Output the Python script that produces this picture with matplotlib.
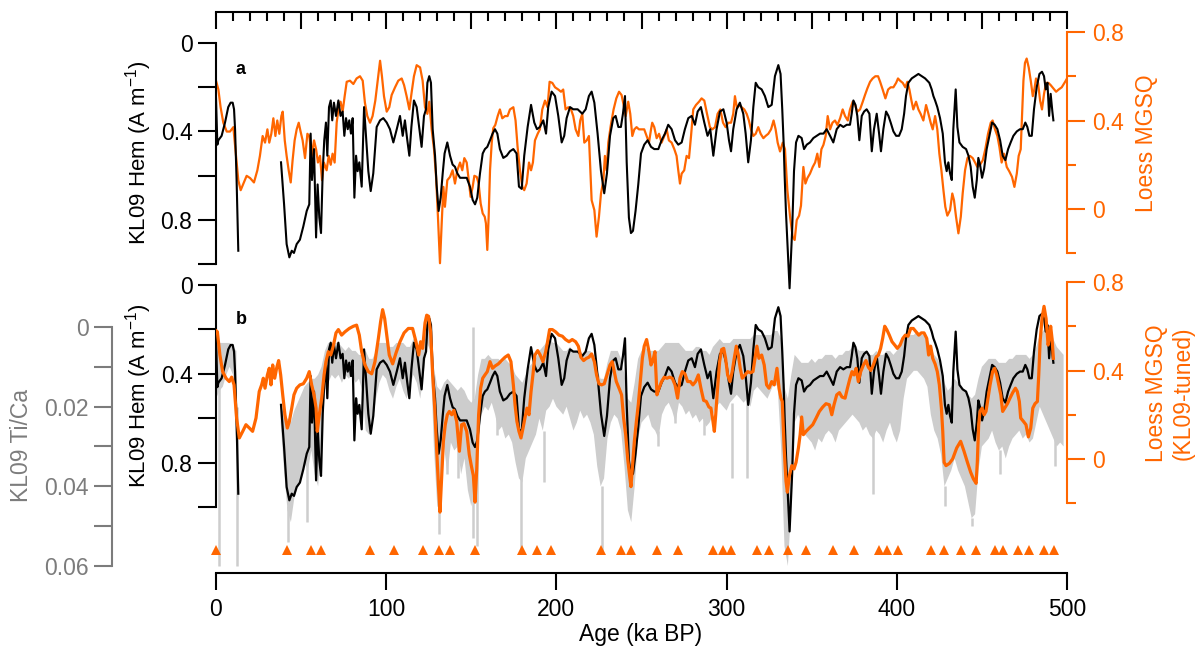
import matplotlib.pyplot as plt
from matplotlib.ticker import MultipleLocator
import numpy as np

# KL09 hematite (A m-1), [age ka, value]; same record shown in both panels
hem_pts = np.array([
    [0.0, 0.25], [0.8, 0.46], [1.4, 0.44], [3.3, 0.42], [5.3, 0.36], [7.2, 0.29],
    [8.6, 0.27], [9.8, 0.27], [10.6, 0.30], [11.2, 0.39], [12.1, 0.62], [13.1, 0.94],
    [25.0, np.nan],
    [38.2, 0.54], [40.0, 0.73], [41.5, 0.91], [43.1, 0.97], [44.5, 0.94], [45.8, 0.95],
    [47.4, 0.91], [49.3, 0.89], [51.3, 0.83], [53.3, 0.76], [54.8, 0.73], [55.6, 0.41],
    [56.4, 0.62], [57.6, 0.48], [58.8, 0.88], [59.7, 0.64], [60.7, 0.79], [61.7, 0.86],
    [62.7, 0.58], [63.6, 0.44], [64.6, 0.36], [65.4, 0.51], [66.4, 0.29], [67.4, 0.26],
    [68.3, 0.35], [69.3, 0.27], [70.5, 0.33], [71.9, 0.26], [73.2, 0.33], [74.4, 0.31],
    [75.4, 0.42], [76.4, 0.34], [77.4, 0.39], [78.3, 0.35], [79.3, 0.41], [80.3, 0.34],
    [81.3, 0.70], [82.3, 0.51], [83.2, 0.58], [84.2, 0.54], [85.6, 0.65], [87.0, 0.29],
    [88.1, 0.42], [89.5, 0.58], [90.9, 0.67], [92.4, 0.59], [94.4, 0.38], [96.4, 0.35],
    [98.3, 0.34], [100.3, 0.36], [102.2, 0.39], [104.2, 0.45], [106.2, 0.39], [108.1, 0.33],
    [109.7, 0.42], [111.0, 0.35], [112.4, 0.44], [113.6, 0.51], [114.8, 0.38], [116.3, 0.26],
    [117.9, 0.29], [119.5, 0.39], [120.8, 0.47], [122.2, 0.33], [123.4, 0.30], [124.2, 0.18],
    [125.3, 0.15], [126.3, 0.18], [127.3, 0.39], [128.7, 0.51], [129.6, 0.64], [130.8, 0.76],
    [132.0, 0.70], [133.2, 0.59], [134.3, 0.50], [135.9, 0.45], [137.5, 0.51], [139.0, 0.55],
    [140.4, 0.56], [141.8, 0.59], [143.4, 0.61], [145.3, 0.61], [147.3, 0.61], [149.2, 0.65],
    [150.8, 0.71], [152.2, 0.73], [153.5, 0.70], [155.1, 0.59], [156.7, 0.50], [158.0, 0.48],
    [159.4, 0.47], [161.0, 0.44], [162.5, 0.41], [163.9, 0.39], [165.3, 0.41], [166.8, 0.48],
    [168.8, 0.52], [170.8, 0.51], [172.7, 0.49], [174.7, 0.48], [176.6, 0.50], [178.0, 0.65],
    [179.6, 0.66], [181.1, 0.51], [183.1, 0.38], [185.1, 0.28], [187.0, 0.36], [188.6, 0.39],
    [190.3, 0.38], [192.3, 0.35], [193.9, 0.41], [195.2, 0.29], [197.2, 0.22], [199.2, 0.24],
    [201.1, 0.33], [203.1, 0.45], [204.6, 0.42], [206.0, 0.34], [208.0, 0.29], [209.9, 0.30],
    [212.5, 0.30], [215.2, 0.32], [217.2, 0.30], [219.1, 0.24], [220.7, 0.22], [222.3, 0.27],
    [224.2, 0.41], [226.2, 0.58], [228.1, 0.68], [229.7, 0.59], [231.5, 0.42], [233.4, 0.34],
    [234.8, 0.33], [236.4, 0.38], [237.9, 0.38], [239.1, 0.32], [240.3, 0.24], [241.3, 0.54],
    [242.6, 0.79], [243.8, 0.86], [245.0, 0.85], [246.5, 0.76], [248.1, 0.64], [249.7, 0.50],
    [251.6, 0.46], [253.6, 0.44], [255.6, 0.47], [257.5, 0.48], [259.9, 0.48], [261.8, 0.44],
    [263.8, 0.41], [265.7, 0.37], [267.7, 0.39], [269.7, 0.44], [271.6, 0.46], [273.6, 0.45],
    [275.5, 0.39], [277.5, 0.34], [279.5, 0.33], [281.4, 0.37], [283.0, 0.31], [284.9, 0.29],
    [286.9, 0.36], [288.8, 0.42], [290.4, 0.39], [292.2, 0.51], [294.1, 0.39], [296.1, 0.31],
    [298.1, 0.30], [300.0, 0.36], [301.4, 0.44], [302.6, 0.49], [303.9, 0.39], [305.9, 0.30],
    [307.8, 0.27], [309.8, 0.32], [311.2, 0.41], [312.7, 0.54], [314.3, 0.44], [315.7, 0.29],
    [317.1, 0.18], [318.6, 0.20], [320.6, 0.21], [322.5, 0.24], [324.5, 0.29], [326.5, 0.28],
    [328.4, 0.15], [330.4, 0.10], [331.7, 0.14], [332.7, 0.30], [333.5, 0.45], [334.1, 0.60],
    [334.9, 0.77], [336.3, 1.00], [337.0, 1.11], [338.5, 0.85], [339.6, 0.58], [340.8, 0.45],
    [342.2, 0.42], [344.1, 0.43], [345.5, 0.48], [347.1, 0.46], [349.0, 0.45], [351.0, 0.43],
    [352.9, 0.42], [354.9, 0.41], [356.9, 0.41], [358.8, 0.39], [360.8, 0.42], [362.7, 0.45],
    [364.7, 0.39], [366.7, 0.37], [368.6, 0.38], [370.6, 0.37], [372.5, 0.37], [373.5, 0.32],
    [374.5, 0.26], [375.7, 0.28], [376.8, 0.33], [378.0, 0.44], [379.4, 0.33], [380.8, 0.31],
    [382.3, 0.30], [383.9, 0.32], [385.3, 0.49], [386.6, 0.39], [388.2, 0.32], [389.6, 0.41],
    [390.7, 0.49], [392.1, 0.39], [393.7, 0.31], [395.1, 0.33], [396.4, 0.36], [398.0, 0.40],
    [399.6, 0.42], [401.3, 0.42], [402.9, 0.39], [404.3, 0.32], [405.4, 0.24], [406.8, 0.18],
    [408.8, 0.16], [410.7, 0.15], [412.7, 0.14], [414.6, 0.15], [416.6, 0.16], [419.1, 0.18],
    [420.5, 0.21], [421.5, 0.24], [422.5, 0.26], [423.8, 0.29], [425.4, 0.34], [427.0, 0.41],
    [428.3, 0.54], [429.3, 0.58], [430.3, 0.54], [431.3, 0.59], [432.3, 0.62], [433.2, 0.39],
    [434.6, 0.21], [435.6, 0.38], [436.8, 0.45], [438.7, 0.47], [440.7, 0.48], [442.1, 0.51],
    [443.4, 0.56], [444.6, 0.65], [445.8, 0.70], [447.0, 0.62], [447.9, 0.52], [448.9, 0.55],
    [450.1, 0.61], [451.3, 0.57], [452.8, 0.48], [454.4, 0.42], [456.0, 0.36], [457.5, 0.37],
    [459.1, 0.39], [460.7, 0.44], [462.2, 0.51], [463.8, 0.53], [465.4, 0.48], [466.9, 0.45],
    [468.5, 0.42], [470.5, 0.40], [472.4, 0.39], [474.0, 0.39], [475.5, 0.36], [476.7, 0.38],
    [477.9, 0.42], [479.3, 0.42], [480.6, 0.30], [482.2, 0.20], [483.8, 0.14], [485.3, 0.13],
    [486.5, 0.15], [487.5, 0.21], [488.5, 0.18], [489.5, 0.33], [490.4, 0.23], [491.4, 0.31],
    [492.0, 0.35],
])

# Loess MGSQ on its own age model (panel a)
loess_pts = np.array([
    [0.0, 0.58], [1.4, 0.54], [2.7, 0.46], [4.3, 0.39], [6.3, 0.35], [8.2, 0.35],
    [10.2, 0.37], [11.8, 0.24], [13.1, 0.13], [14.5, 0.085], [16.1, 0.115], [18.0, 0.15],
    [20.0, 0.14], [22.3, 0.12], [24.3, 0.175], [25.8, 0.24], [27.4, 0.33], [28.8, 0.30],
    [30.2, 0.36], [31.3, 0.30], [32.5, 0.34], [33.7, 0.41], [34.9, 0.33], [36.0, 0.40],
    [37.2, 0.34], [38.4, 0.42], [39.2, 0.44], [40.4, 0.31], [41.5, 0.24], [42.7, 0.175],
    [43.9, 0.12], [45.0, 0.22], [46.2, 0.31], [47.4, 0.36], [48.6, 0.39], [49.7, 0.35],
    [50.9, 0.31], [52.3, 0.23], [53.7, 0.34], [54.8, 0.33], [56.2, 0.24], [57.6, 0.31],
    [58.8, 0.27], [59.9, 0.21], [61.1, 0.24], [62.3, 0.13], [63.4, 0.21], [65.0, 0.175],
    [66.2, 0.24], [67.4, 0.20], [68.5, 0.25], [69.7, 0.21], [70.9, 0.39], [72.1, 0.46],
    [73.2, 0.485], [74.4, 0.44], [75.6, 0.51], [76.8, 0.575], [78.7, 0.58], [80.7, 0.565],
    [82.6, 0.59], [84.6, 0.60], [86.2, 0.58], [87.5, 0.48], [88.9, 0.42], [90.5, 0.39],
    [92.0, 0.42], [93.6, 0.49], [95.0, 0.58], [96.4, 0.67], [97.5, 0.60], [98.7, 0.51],
    [100.3, 0.44], [101.8, 0.46], [103.2, 0.515], [105.2, 0.55], [107.1, 0.58], [109.1, 0.59],
    [110.5, 0.56], [112.0, 0.51], [113.6, 0.45], [115.0, 0.53], [116.3, 0.60], [117.9, 0.65],
    [119.9, 0.64], [121.4, 0.58], [122.8, 0.46], [124.2, 0.43], [125.3, 0.485], [126.7, 0.36],
    [128.1, 0.27], [129.3, 0.145], [130.4, -0.035], [131.6, -0.245], [132.6, -0.065], [133.6, 0.10],
    [134.5, 0.01], [135.9, 0.13], [137.5, 0.145], [139.0, 0.175], [140.4, 0.115], [141.8, 0.175],
    [143.4, 0.21], [144.7, 0.175], [145.9, 0.23], [147.3, 0.21], [148.5, 0.13], [149.6, 0.055],
    [150.8, 0.10], [151.8, 0.15], [153.2, 0.145], [154.3, 0.115], [155.5, 0.025], [156.7, -0.02],
    [157.9, -0.035], [158.6, -0.065], [159.4, -0.185], [160.2, -0.035], [161.0, 0.175], [162.0, 0.30],
    [162.9, 0.365], [164.1, 0.38], [165.5, 0.42], [166.8, 0.45], [168.2, 0.41], [169.8, 0.42],
    [171.3, 0.42], [172.7, 0.45], [174.7, 0.46], [176.0, 0.40], [177.2, 0.28], [178.6, 0.175],
    [180.0, 0.10], [181.1, 0.085], [182.5, 0.115], [183.9, 0.21], [185.1, 0.175], [186.2, 0.21],
    [187.4, 0.31], [189.0, 0.34], [190.3, 0.36], [191.7, 0.45], [193.3, 0.49], [194.8, 0.46],
    [196.0, 0.575], [197.6, 0.57], [199.2, 0.55], [201.1, 0.54], [202.7, 0.53], [204.0, 0.54],
    [205.4, 0.45], [207.0, 0.46], [208.6, 0.45], [209.9, 0.42], [211.3, 0.36], [212.9, 0.33],
    [214.0, 0.40], [215.2, 0.43], [216.4, 0.30], [217.8, 0.31], [219.1, 0.33], [220.7, 0.04],
    [222.3, -0.005], [223.6, -0.125], [225.0, -0.035], [226.2, 0.07], [227.6, 0.13], [228.5, 0.24],
    [229.5, 0.175], [230.5, 0.30], [232.0, 0.38], [233.6, 0.45], [235.2, 0.50], [236.8, 0.53],
    [238.3, 0.515], [239.5, 0.47], [240.7, 0.42], [242.2, 0.485], [243.4, 0.43], [244.6, 0.33],
    [245.8, 0.36], [247.1, 0.37], [248.5, 0.36], [250.1, 0.36], [251.6, 0.36], [253.0, 0.33],
    [254.4, 0.30], [255.6, 0.36], [256.3, 0.39], [257.5, 0.37], [258.9, 0.32], [260.3, 0.34],
    [261.8, 0.30], [263.4, 0.33], [264.8, 0.36], [266.1, 0.31], [267.7, 0.30], [269.3, 0.27],
    [270.6, 0.24], [271.6, 0.175], [272.6, 0.115], [273.6, 0.16], [275.1, 0.175], [276.5, 0.24],
    [277.9, 0.23], [279.1, 0.33], [280.4, 0.45], [282.0, 0.47], [283.8, 0.485], [285.3, 0.50],
    [286.9, 0.49], [288.5, 0.43], [290.2, 0.37], [291.6, 0.36], [293.2, 0.37], [294.7, 0.43],
    [296.3, 0.45], [297.9, 0.39], [299.4, 0.37], [301.0, 0.39], [302.6, 0.39], [303.9, 0.43],
    [304.9, 0.51], [306.1, 0.455], [307.3, 0.47], [308.8, 0.46], [310.4, 0.45], [311.8, 0.43],
    [313.1, 0.40], [314.3, 0.36], [315.7, 0.33], [317.1, 0.34], [318.6, 0.37], [320.0, 0.34],
    [321.6, 0.32], [322.9, 0.33], [324.5, 0.34], [326.1, 0.36], [327.6, 0.40], [328.8, 0.36],
    [330.0, 0.30], [331.4, 0.26], [333.0, 0.30], [334.3, 0.27], [335.7, 0.085], [337.3, -0.035],
    [338.8, -0.125], [340.0, -0.14], [341.2, -0.05], [342.6, -0.03], [343.7, 0.015], [345.1, 0.19],
    [346.3, 0.115], [347.5, 0.14], [349.0, 0.16], [350.6, 0.19], [352.0, 0.21], [353.3, 0.25],
    [354.5, 0.19], [355.7, 0.27], [356.9, 0.29], [358.2, 0.33], [359.4, 0.42], [360.8, 0.36],
    [362.2, 0.39], [363.7, 0.40], [365.1, 0.38], [366.7, 0.41], [368.2, 0.45], [369.6, 0.42],
    [371.2, 0.40], [372.5, 0.45], [374.1, 0.485], [375.5, 0.47], [376.8, 0.44], [378.4, 0.45],
    [380.0, 0.485], [381.3, 0.515], [382.7, 0.545], [384.3, 0.575], [385.8, 0.59], [387.4, 0.60],
    [389.0, 0.60], [390.2, 0.575], [391.7, 0.54], [393.3, 0.50], [394.9, 0.54], [396.4, 0.55],
    [398.0, 0.55], [399.6, 0.57], [400.7, 0.59], [401.9, 0.58], [403.5, 0.57], [405.0, 0.55],
    [406.2, 0.575], [407.4, 0.54], [408.6, 0.49], [409.7, 0.45], [411.3, 0.485], [412.7, 0.45],
    [414.0, 0.43], [415.6, 0.40], [417.2, 0.47], [418.6, 0.43], [419.9, 0.39], [421.1, 0.36],
    [422.5, 0.42], [423.8, 0.36], [425.0, 0.25], [426.2, 0.175], [427.4, 0.085], [428.5, 0.01],
    [429.7, -0.03], [431.3, -0.005], [432.6, 0.07], [433.6, 0.04], [434.8, -0.035], [436.2, -0.11],
    [437.6, -0.035], [438.7, 0.07], [440.1, 0.175], [441.5, 0.23], [443.0, 0.24], [444.6, 0.23],
    [446.0, 0.21], [447.3, 0.19], [448.9, 0.20], [450.5, 0.22], [452.0, 0.27], [453.6, 0.34],
    [455.2, 0.39], [456.3, 0.40], [457.7, 0.36], [459.1, 0.33], [460.3, 0.28], [461.6, 0.21],
    [463.0, 0.25], [464.6, 0.19], [466.1, 0.17], [467.7, 0.145], [469.1, 0.10], [470.5, 0.16],
    [471.6, 0.24], [472.8, 0.27], [473.6, 0.42], [474.4, 0.58], [475.3, 0.66], [476.3, 0.68],
    [477.5, 0.64], [478.7, 0.58], [479.9, 0.51], [480.8, 0.54], [481.8, 0.59], [483.0, 0.57],
    [484.2, 0.49], [485.3, 0.45], [486.5, 0.52], [487.7, 0.57], [489.1, 0.57], [490.4, 0.56],
    [492.0, 0.545], [493.6, 0.53], [495.1, 0.54], [496.9, 0.55], [498.9, 0.575], [500.0, 0.59],
])

# Loess MGSQ tuned to KL09 (panel b)
tuned_pts = np.array([
    [0.0, 0.58], [0.8, 0.575], [2.3, 0.47], [3.9, 0.395], [5.9, 0.365], [7.8, 0.35],
    [9.2, 0.37], [10.6, 0.335], [12.1, 0.185], [13.7, 0.095], [15.7, 0.125], [17.6, 0.155],
    [19.6, 0.14], [21.5, 0.125], [23.5, 0.185], [25.4, 0.305], [26.8, 0.335], [27.8, 0.365],
    [28.8, 0.32], [30.2, 0.38], [31.3, 0.41], [32.3, 0.335], [33.3, 0.425], [34.5, 0.365],
    [35.6, 0.41], [36.8, 0.445], [38.0, 0.38], [39.2, 0.29], [40.5, 0.20], [41.9, 0.14],
    [43.1, 0.17], [44.5, 0.23], [45.8, 0.29], [47.4, 0.32], [49.3, 0.335], [51.3, 0.34],
    [53.3, 0.365], [54.8, 0.395], [56.2, 0.335], [57.6, 0.29], [58.8, 0.23], [59.5, 0.125],
    [60.7, 0.20], [62.1, 0.275], [63.5, 0.38], [64.6, 0.44], [66.0, 0.485], [67.4, 0.47],
    [68.9, 0.51], [70.5, 0.57], [71.9, 0.585], [73.8, 0.56], [75.8, 0.575], [78.3, 0.59],
    [80.7, 0.60], [82.6, 0.605], [84.2, 0.56], [85.6, 0.485], [87.5, 0.425], [89.5, 0.395],
    [91.5, 0.385], [93.4, 0.44], [95.4, 0.545], [96.7, 0.62], [97.9, 0.675], [99.1, 0.635],
    [100.3, 0.56], [101.8, 0.47], [103.8, 0.43], [105.8, 0.48], [108.1, 0.53], [110.5, 0.57],
    [113.0, 0.59], [115.5, 0.59], [117.5, 0.53], [119.1, 0.47], [120.2, 0.53], [121.4, 0.50],
    [122.8, 0.615], [123.8, 0.65], [124.9, 0.645], [126.1, 0.575], [127.3, 0.38], [128.5, 0.23],
    [129.6, 0.05], [130.8, -0.135], [131.6, -0.24], [132.6, -0.075], [133.6, 0.08], [134.7, 0.155],
    [135.9, 0.20], [137.1, 0.215], [138.5, 0.20], [139.8, 0.22], [141.4, 0.17], [143.0, 0.035],
    [144.3, 0.155], [145.7, 0.16], [147.3, 0.125], [148.8, 0.02], [150.0, -0.03], [151.2, -0.075],
    [152.2, -0.195], [153.2, -0.045], [154.3, 0.20], [155.5, 0.32], [156.7, 0.365], [158.0, 0.38],
    [159.4, 0.395], [161.0, 0.44], [162.5, 0.41], [163.9, 0.42], [165.9, 0.43], [167.8, 0.445],
    [169.8, 0.46], [171.7, 0.47], [173.3, 0.44], [174.7, 0.335], [175.7, 0.245], [176.8, 0.17],
    [178.0, 0.125], [179.2, 0.095], [180.4, 0.14], [181.5, 0.185], [182.7, 0.23], [183.9, 0.20],
    [185.1, 0.305], [186.2, 0.38], [187.4, 0.47], [189.0, 0.49], [190.5, 0.47], [192.1, 0.44],
    [193.7, 0.485], [194.8, 0.53], [196.0, 0.585], [197.6, 0.585], [199.5, 0.575], [201.5, 0.56],
    [203.5, 0.555], [205.4, 0.54], [207.4, 0.53], [209.3, 0.54], [211.3, 0.53], [212.9, 0.51],
    [214.4, 0.46], [216.0, 0.445], [217.6, 0.455], [219.1, 0.46], [220.7, 0.475], [222.3, 0.44],
    [223.6, 0.38], [225.0, 0.34], [226.6, 0.335], [228.1, 0.34], [229.7, 0.38], [231.5, 0.425],
    [232.8, 0.44], [234.0, 0.395], [235.2, 0.35], [236.8, 0.32], [238.3, 0.29], [239.5, 0.185],
    [240.7, 0.11], [241.9, 0.0], [243.0, -0.075], [243.8, -0.125], [244.6, -0.045], [245.8, 0.08],
    [247.0, 0.17], [248.1, 0.245], [249.3, 0.35], [250.5, 0.455], [251.6, 0.51], [253.0, 0.54],
    [254.4, 0.485], [255.6, 0.425], [256.7, 0.445], [257.9, 0.485], [259.1, 0.29], [260.3, 0.32],
    [261.8, 0.35], [263.4, 0.37], [265.0, 0.365], [266.5, 0.37], [268.1, 0.365], [269.7, 0.335],
    [271.2, 0.275], [272.6, 0.365], [274.0, 0.395], [275.5, 0.385], [277.1, 0.35], [278.7, 0.35],
    [280.2, 0.335], [281.8, 0.35], [283.4, 0.38], [284.9, 0.32], [286.5, 0.265], [288.1, 0.26],
    [289.6, 0.235], [290.8, 0.23], [292.0, 0.17], [292.8, 0.125], [293.6, 0.20], [294.7, 0.32],
    [295.9, 0.44], [297.1, 0.495], [298.3, 0.50], [299.4, 0.455], [300.6, 0.38], [302.0, 0.35],
    [303.3, 0.395], [304.5, 0.455], [305.7, 0.51], [306.9, 0.47], [308.0, 0.41], [309.2, 0.365],
    [310.8, 0.38], [312.4, 0.395], [313.9, 0.39], [315.5, 0.395], [316.7, 0.455], [317.8, 0.51],
    [319.0, 0.455], [320.6, 0.47], [322.1, 0.425], [323.5, 0.335], [324.9, 0.32], [326.5, 0.35],
    [328.0, 0.335], [329.6, 0.41], [330.8, 0.32], [331.9, 0.275], [332.7, 0.26], [333.8, 0.05],
    [334.9, -0.10], [335.7, -0.15], [336.9, -0.075], [338.3, -0.03], [339.6, -0.045], [340.8, -0.015],
    [342.2, 0.05], [343.2, 0.11], [344.1, 0.19], [345.1, 0.11], [346.7, 0.125], [348.6, 0.14],
    [350.6, 0.155], [352.6, 0.185], [354.5, 0.215], [356.5, 0.235], [358.4, 0.25], [360.4, 0.245],
    [361.8, 0.20], [363.1, 0.245], [364.7, 0.29], [366.3, 0.30], [367.8, 0.28], [369.6, 0.275],
    [371.0, 0.32], [372.5, 0.365], [373.7, 0.395], [374.9, 0.38], [376.1, 0.41], [377.4, 0.35],
    [378.8, 0.395], [380.4, 0.425], [381.9, 0.445], [383.3, 0.415], [384.7, 0.40], [386.2, 0.425],
    [387.8, 0.46], [389.2, 0.47], [390.5, 0.50], [391.7, 0.545], [392.9, 0.60], [394.1, 0.585],
    [395.6, 0.56], [397.2, 0.53], [398.8, 0.515], [400.3, 0.50], [401.9, 0.515], [403.5, 0.545],
    [405.0, 0.56], [406.6, 0.555], [408.2, 0.59], [409.7, 0.59], [411.3, 0.575], [412.9, 0.56],
    [414.4, 0.57], [416.0, 0.57], [417.6, 0.545], [418.7, 0.47], [419.9, 0.51], [421.1, 0.455],
    [422.5, 0.43], [423.8, 0.395], [425.0, 0.335], [426.2, 0.23], [427.0, 0.125], [427.8, -0.015],
    [428.9, -0.03], [430.9, -0.02], [432.8, 0.0], [435.2, 0.05], [437.5, 0.08], [439.5, 0.035],
    [441.5, -0.015], [443.4, -0.06], [445.0, -0.09], [446.6, -0.11], [447.3, -0.015], [448.1, 0.155],
    [448.9, 0.215], [450.1, 0.23], [451.3, 0.20], [452.4, 0.215], [453.6, 0.275], [454.8, 0.335],
    [456.3, 0.395], [457.5, 0.41], [458.7, 0.38], [459.9, 0.335], [461.1, 0.29], [462.2, 0.215],
    [463.4, 0.23], [465.0, 0.25], [466.5, 0.275], [468.1, 0.30], [469.7, 0.32], [470.8, 0.305],
    [472.0, 0.26], [472.8, 0.185], [474.4, 0.17], [475.9, 0.155], [477.3, 0.10], [478.7, 0.14],
    [479.9, 0.23], [481.2, 0.25], [482.6, 0.26], [483.4, 0.38], [484.2, 0.53], [485.3, 0.635],
    [486.5, 0.69], [487.7, 0.635], [488.9, 0.515], [489.6, 0.545], [490.4, 0.60], [491.2, 0.545],
    [492.0, 0.455],
])

# KL09 Ti/Ca: read as an envelope (upper/lower edge of the dense grey trace) every 2 ka
tica_age = np.arange(0, 500, 2)
tica_top = [
    0.004, 0.004, 0.004, 0.004, 0.004, 0.005, 0.006, np.nan, np.nan, np.nan,
    np.nan, np.nan, np.nan, np.nan, np.nan, np.nan, np.nan, np.nan, np.nan, 0.019,
    0.022, 0.023, 0.024, 0.021, 0.019, 0.017, 0.015, 0.014, 0.013, 0.013,
    0.012, 0.010, 0.006, 0.004, 0.004, 0.004, 0.004, 0.005, 0.006, 0.005,
    0.006, 0.006, 0.007, 0.007, 0.006, 0.008, 0.008, 0.006, 0.004, 0.004,
    0.004, 0.005, 0.005, 0.004, 0.004, 0.004, 0.005, 0.005, 0.003, 0.004,
    0.005, 0.004, -0.002, -0.002, 0.010, 0.015, 0.016, 0.014, 0.013, 0.014,
    0.015, 0.016, 0.015, 0.016, 0.018, 0.019, 0.018, 0.012, 0.008, 0.008,
    0.007, 0.008, 0.008, 0.008, 0.009, 0.008, 0.009, 0.010, 0.012, 0.013,
    0.014, 0.012, 0.010, 0.009, 0.008, 0.006, 0.005, 0.004, 0.003, 0.004,
    0.004, 0.005, 0.006, 0.006, 0.005, 0.006, 0.006, 0.006, 0.007, 0.006,
    0.006, 0.008, 0.011, 0.013, 0.013, 0.009, 0.006, 0.006, 0.006, 0.008,
    0.012, 0.018, 0.019, 0.014, 0.008, 0.006, 0.005, 0.006, 0.006, 0.006,
    0.006, 0.005, 0.004, 0.004, 0.004, 0.004, 0.004, 0.005, 0.006, 0.006,
    0.006, 0.005, 0.005, 0.006, 0.006, 0.007, 0.005, 0.004, 0.003, 0.004,
    0.004, 0.004, 0.003, 0.003, 0.003, 0.003, 0.003, 0.003, 0.002, 0.002,
    0.002, 0.002, 0.002, 0.002, 0.001, 0.001, 0.003, 0.015, 0.018, 0.012,
    0.007, 0.008, 0.009, 0.009, 0.009, 0.008, 0.009, 0.008, 0.008, 0.007,
    0.007, 0.007, 0.008, 0.007, 0.007, 0.006, 0.006, 0.005, 0.005, 0.006,
    0.006, 0.006, 0.007, 0.007, 0.006, 0.007, 0.007, 0.006, 0.006, 0.007,
    0.006, 0.005, 0.003, 0.002, 0.002, 0.002, 0.001, 0.002, 0.002, 0.003,
    0.005, 0.007, 0.008, 0.010, 0.014, 0.016, 0.015, 0.013, 0.014, 0.015,
    0.016, 0.017, 0.018, 0.017, 0.013, 0.010, 0.009, 0.008, 0.008, 0.008,
    0.009, 0.009, 0.009, 0.008, 0.008, 0.007, 0.007, 0.007, 0.007, 0.008,
    0.007, 0.005, 0.002, 0.001, 0.000, 0.001, 0.003, 0.005, 0.006, 0.007,
]
tica_bot = [
    0.018, 0.016, 0.015, 0.012, 0.010, 0.012, 0.030, np.nan, np.nan, np.nan,
    np.nan, np.nan, np.nan, np.nan, np.nan, np.nan, np.nan, np.nan, np.nan, 0.024,
    0.036, 0.046, 0.049, 0.043, 0.040, 0.038, 0.034, 0.036, 0.031, 0.037,
    0.040, 0.030, 0.016, 0.014, 0.012, 0.013, 0.012, 0.014, 0.012, 0.013,
    0.012, 0.014, 0.013, 0.016, 0.026, 0.027, 0.024, 0.018, 0.014, 0.012,
    0.013, 0.016, 0.018, 0.015, 0.013, 0.016, 0.018, 0.015, 0.012, 0.014,
    0.018, 0.012, 0.004, 0.006, 0.030, 0.045, 0.046, 0.030, 0.037, 0.029,
    0.031, 0.030, 0.037, 0.033, 0.041, 0.045, 0.040, 0.030, 0.022, 0.020,
    0.021, 0.019, 0.022, 0.026, 0.025, 0.028, 0.027, 0.029, 0.034, 0.038,
    0.039, 0.033, 0.031, 0.029, 0.027, 0.023, 0.026, 0.021, 0.020, 0.018,
    0.020, 0.021, 0.022, 0.020, 0.023, 0.026, 0.024, 0.021, 0.023, 0.022,
    0.024, 0.027, 0.035, 0.040, 0.038, 0.028, 0.024, 0.022, 0.023, 0.026,
    0.035, 0.046, 0.049, 0.040, 0.028, 0.024, 0.023, 0.022, 0.025, 0.026,
    0.028, 0.022, 0.020, 0.019, 0.021, 0.024, 0.019, 0.020, 0.022, 0.021,
    0.023, 0.022, 0.024, 0.023, 0.025, 0.024, 0.022, 0.020, 0.019, 0.020,
    0.021, 0.019, 0.018, 0.017, 0.018, 0.019, 0.018, 0.020, 0.016, 0.015,
    0.016, 0.017, 0.018, 0.016, 0.014, 0.015, 0.030, 0.055, 0.060, 0.045,
    0.024, 0.022, 0.024, 0.027, 0.028, 0.029, 0.031, 0.028, 0.029, 0.027,
    0.026, 0.027, 0.029, 0.026, 0.025, 0.024, 0.023, 0.022, 0.023, 0.024,
    0.026, 0.025, 0.027, 0.028, 0.026, 0.027, 0.029, 0.026, 0.024, 0.027,
    0.029, 0.026, 0.018, 0.013, 0.012, 0.011, 0.011, 0.012, 0.013, 0.015,
    0.022, 0.026, 0.028, 0.032, 0.040, 0.038, 0.036, 0.033, 0.036, 0.038,
    0.040, 0.044, 0.048, 0.047, 0.036, 0.030, 0.029, 0.028, 0.026, 0.029,
    0.031, 0.030, 0.033, 0.030, 0.028, 0.027, 0.026, 0.028, 0.027, 0.029,
    0.028, 0.024, 0.020, 0.022, 0.024, 0.026, 0.028, 0.030, 0.029, 0.030,
]
# narrow single-sample spikes of the Ti/Ca trace: age, one end, other end
spike_age = [2.0, 12.4, 42.5, 53.7, 131.2, 136.0, 142.4, 151.2, 153.2, 164.9, 179.2, 192.9,
             227.0, 259.9, 269.7, 286.9, 303.0, 311.8, 385.8, 428.4, 444.0, 460.7, 493.0]
spike_from = [0.015, 0.020, 0.045, 0.034, 0.045, 0.030, 0.030, 0.000, 0.030, 0.022, 0.038, 0.026,
              0.040, 0.026, 0.020, 0.023, 0.019, 0.018, 0.025, 0.040, 0.048, 0.031, 0.028]
spike_to = [0.060, 0.060, 0.054, 0.049, 0.052, 0.037, 0.038, 0.053, 0.055, 0.027, 0.057, 0.039,
            0.057, 0.030, 0.024, 0.027, 0.038, 0.038, 0.042, 0.045, 0.050, 0.037, 0.035]

# tie points used for tuning (orange triangles)
tie_ages = [0, 42, 56, 61.5, 90.5, 104.3, 121.4, 131.2, 137.5, 152, 179.6, 188.4, 196.8,
            226.2, 237.8, 243.7, 259.3, 271.6, 292.2, 297.7, 302.6, 318, 324.7, 335.9,
            346.6, 362.7, 375, 389.5, 394, 400.9, 419.9, 427.9, 437.9, 446.4, 457.9,
            462.2, 471.4, 477.9, 486.7, 492.4]

plt.rcParams['font.family'] = ['Liberation Sans', 'DejaVu Sans']
plt.rcParams['mathtext.fontset'] = 'custom'
plt.rcParams['mathtext.rm'] = 'Liberation Sans'

W, H = 1203, 655
ORANGE = '#ff6600'
GREY = '#cdcdcd'
GREY_AX = '#7c7c7c'
FS = 16.5
TICK = 13


def rect(left, top, right, bottom):
    return [left / W, 1 - bottom / H, (right - left) / W, (bottom - top) / H]


def ylim_px(v0, p0, v1, p1, top, bottom):
    # axis limits so that v0 sits on pixel row p0 and v1 on p1
    k = (v1 - v0) / (p1 - p0)
    return v0 + (bottom - p0) * k, v0 + (top - p0) * k


def clean(ax):
    ax.patch.set_visible(False)
    for s in ax.spines.values():
        s.set_visible(False)
    ax.set_xlim(0, 500)


fig = plt.figure(figsize=(W / 100, H / 100), dpi=100)

# ---------- panel a ----------
ra = rect(216, 12, 1067, 295)
ax_ao = fig.add_axes(ra)
clean(ax_ao)
ax_ao.plot(loess_pts[:, 0], loess_pts[:, 1], color=ORANGE, lw=1.6)
ax_ao.set_ylim(*ylim_px(0.8, 32, 0.0, 209, 12, 295))

ax_a = fig.add_axes(ra, sharex=ax_ao)
clean(ax_a)
ax_a.plot(hem_pts[:, 0], hem_pts[:, 1], color='black', lw=1.5)
ax_a.set_ylim(*ylim_px(0.0, 43, 1.0, 264, 12, 295))

# ---------- panel b ----------
rb = rect(216, 275, 1067, 573)
ax_bt = fig.add_axes(rb)
clean(ax_bt)
ax_bt.fill_between(tica_age, tica_top, tica_bot, color=GREY, lw=0)
ax_bt.vlines(spike_age, spike_from, spike_to, color=GREY, lw=1.8)
ax_bt.set_ylim(*ylim_px(0.0, 327, 0.06, 566, 275, 573))

ax_b = fig.add_axes(rb, sharex=ax_bt)
clean(ax_b)
ax_b.plot(hem_pts[:, 0], hem_pts[:, 1], color='black', lw=1.6)
ax_b.set_ylim(*ylim_px(0.0, 285, 1.0, 507, 275, 573))

ax_bo = fig.add_axes(rb, sharex=ax_bt)
clean(ax_bo)
ax_bo.plot(tuned_pts[:, 0], tuned_pts[:, 1], color=ORANGE, lw=2.3)
ax_bo.set_ylim(*ylim_px(0.8, 282, 0.0, 459, 275, 573))
ax_bo.plot(tie_ages, [(573 - 550) / (573 - 275)] * len(tie_ages), '^', color=ORANGE,
           ms=6.5, mew=0, transform=ax_bo.get_xaxis_transform(), clip_on=False)

# ---------- axes styling ----------
for ax in (ax_ao, ax_a, ax_bt, ax_b, ax_bo):
    ax.tick_params(axis='x', which='both', bottom=False, top=False,
                   labelbottom=False, labeltop=False)
    ax.tick_params(axis='y', which='both', left=False, right=False,
                   labelleft=False, labelright=False)

# top frame with inward ticks
ax_a.spines['top'].set_visible(True)
ax_a.spines['top'].set_linewidth(1.5)
ax_a.xaxis.set_major_locator(MultipleLocator(50))
ax_a.xaxis.set_minor_locator(MultipleLocator(10))
ax_a.tick_params(axis='x', which='major', top=True, direction='in', length=12.5, width=1.5)
ax_a.tick_params(axis='x', which='minor', top=True, direction='in', length=6.5, width=1.5)

# bottom age axis
ax_b.spines['bottom'].set_visible(True)
ax_b.spines['bottom'].set_linewidth(1.5)
ax_b.tick_params(axis='x', which='major', bottom=True, labelbottom=True, direction='out',
                 length=12.5, width=1.5, pad=5.5, labelsize=FS)
ax_b.tick_params(axis='x', which='minor', bottom=True, direction='out', length=6.5, width=1.5)

# hematite axes
hem_ticks = [0, 0.2, 0.4, 0.6, 0.8, 1.0]
hem_labels = ['0', '', '0.4', '', '0.8', '']
for ax in (ax_a, ax_b):
    ax.spines['left'].set_visible(True)
    ax.spines['left'].set_linewidth(1.5)
    ax.spines['left'].set_bounds(0, 1.0)
    ax.set_yticks(hem_ticks)
    ax.set_yticklabels(hem_labels)
    ax.tick_params(axis='y', left=True, labelleft=True, direction='out', length=TICK,
                   width=1.5, pad=4, labelsize=FS)

# loess axes
for ax in (ax_ao, ax_bo):
    sp = ax.spines['right']
    sp.set_visible(True)
    sp.set_color(ORANGE)
    sp.set_linewidth(1.5)
    sp.set_bounds(-0.2, 0.8)
    ax.set_yticks([0.8, 0.4, 0.0])
    ax.set_yticklabels(['0.8', '0.4', '0'])
    ax.set_yticks([0.6, 0.2, -0.2], minor=True)
    ax.tick_params(axis='y', which='major', right=True, labelright=True, direction='out',
                   length=TICK, width=1.5, pad=5, colors=ORANGE, labelsize=FS)
    ax.tick_params(axis='y', which='minor', right=True, direction='out', length=6.5,
                   width=1.5, colors=ORANGE)

# Ti/Ca axis, offset to the left
sp = ax_bt.spines['left']
sp.set_visible(True)
sp.set_position(('axes', (112 - 216) / (1067 - 216)))
sp.set_color(GREY_AX)
sp.set_linewidth(1.5)
sp.set_bounds(0, 0.06)
ax_bt.set_yticks([0, 0.01, 0.02, 0.03, 0.04, 0.05, 0.06])
ax_bt.set_yticklabels(['0', '', '0.02', '', '0.04', '', '0.06'])
ax_bt.tick_params(axis='y', left=True, labelleft=True, direction='out', length=TICK,
                  width=1.5, pad=4, colors=GREY_AX, labelsize=FS)

# ---------- labels ----------
def ftext(x, y, s, **kw):
    fig.text(x / W, 1 - y / H, s, ha='center', va='center', **kw)


ftext(139, 153, 'KL09 Hem (A m$^{-1}$)', rotation=90, fontsize=FS - 0.5)
ftext(139, 396, 'KL09 Hem (A m$^{-1}$)', rotation=90, fontsize=FS - 0.5)
ftext(1146, 143, 'Loess MGSQ', rotation=90, fontsize=FS, color=ORANGE)
ftext(1170, 393, 'Loess MGSQ\n(KL09-tuned)', rotation=90, fontsize=FS, color=ORANGE,
      multialignment='center')
ftext(22, 446, 'KL09 Ti/Ca', rotation=90, fontsize=FS, color=GREY_AX)
ftext(641, 635, 'Age (ka BP)', fontsize=FS)
ftext(241, 69, 'a', fontsize=13, fontweight='bold')
ftext(241, 319, 'b', fontsize=13, fontweight='bold')

fig.savefig('out.png', dpi=100, facecolor='white')
